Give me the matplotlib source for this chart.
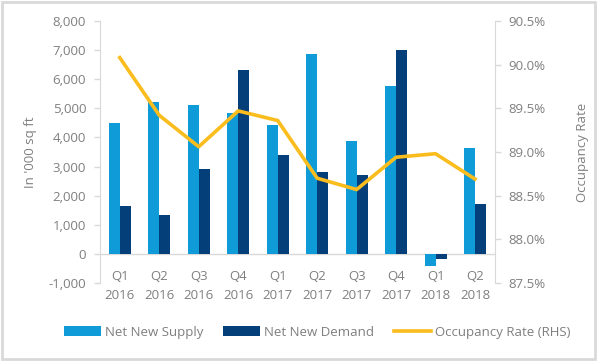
import matplotlib
matplotlib.use("Agg")
import matplotlib.pyplot as plt
import numpy as np
from matplotlib.patches import Rectangle

quarters = ["Q1\n2016", "Q2\n2016", "Q3\n2016", "Q4\n2016", "Q1\n2017",
            "Q2\n2017", "Q3\n2017", "Q4\n2017", "Q1\n2018", "Q2\n2018"]
net_supply = [4480, 5200, 5100, 4850, 4430, 6880, 3870, 5750, -400, 3620]
net_demand = [1650, 1320, 2900, 6330, 3400, 2800, 2720, 7000, -160, 1730]
occupancy = [90.08, 89.42, 89.06, 89.47, 89.36, 88.70, 88.57, 88.94, 88.98, 88.69]

plt.rcParams['font.family'] = ['Open Sans', 'DejaVu Sans']
grey = '#7f7f7f'
c_supply = '#0f9bd7'
c_demand = '#053f79'
c_occ = '#fbbd1e'

fig = plt.figure(figsize=(5.99, 3.61), dpi=100)
ax = fig.add_axes([0.167, 0.216, 0.659, 0.726])
ax2 = ax.twinx()

x = np.arange(len(quarters))
w = 0.28
b1 = ax.bar(x - w / 2, net_supply, w, color=c_supply, label='Net New Supply', zorder=2)
b2 = ax.bar(x + w / 2, net_demand, w, color=c_demand, label='Net New Demand', zorder=2)
ax.axhline(0, color='#d9d9d9', lw=1, zorder=1)

ax.set_xlim(-0.5, len(quarters) - 0.5)
ax.set_ylim(-1000, 8000)
ax.set_yticks(range(-1000, 8001, 1000))
ax.set_yticklabels([f"{v:,}" for v in range(-1000, 8001, 1000)])
ax.set_xticks([])
for i, q in enumerate(quarters):
    ax.text(i, -540, q, ha='center', va='top', fontsize=9.5, color=grey,
            linespacing=1.6, clip_on=False)

l1, = ax2.plot(x, occupancy, color=c_occ, lw=2.6, label='Occupancy Rate (RHS)',
               solid_joinstyle='round')
ax2.set_ylim(87.5, 90.5)
ax2.set_yticks(np.arange(87.5, 90.51, 0.5))
ax2.set_yticklabels([f"{v:.1f}%" for v in np.arange(87.5, 90.51, 0.5)])

for a in (ax, ax2):
    for s in a.spines.values():
        s.set_visible(False)
    a.tick_params(colors=grey, labelcolor=grey, labelsize=9.5, length=4, width=1)
    a.patch.set_visible(False)
ax.spines['left'].set_visible(True)
ax.spines['left'].set_color('#d9d9d9')
ax2.spines['right'].set_visible(True)
ax2.spines['right'].set_color('#d9d9d9')
ax.tick_params(axis='y', color='#d9d9d9', pad=6)
ax2.tick_params(axis='y', color='#d9d9d9', pad=6)

ax.set_ylabel("In '000 sq ft", color=grey, fontsize=9.5, labelpad=8)
ax2.set_ylabel("Occupancy Rate", color=grey, fontsize=9.5, labelpad=22)

fig.legend(handles=[b1, b2, l1], loc='center', bbox_to_anchor=(0.53, 0.08),
           ncol=3, frameon=False, fontsize=9.5, labelcolor=grey,
           handlelength=2.8, handleheight=0.8, columnspacing=1.5, handletextpad=0.3)

fig.patches.append(Rectangle((0.004, 0.006), 0.99, 0.988, transform=fig.transFigure,
                             fill=False, edgecolor='#d9d9d9', lw=2))

fig.savefig("out.png", dpi=100)
